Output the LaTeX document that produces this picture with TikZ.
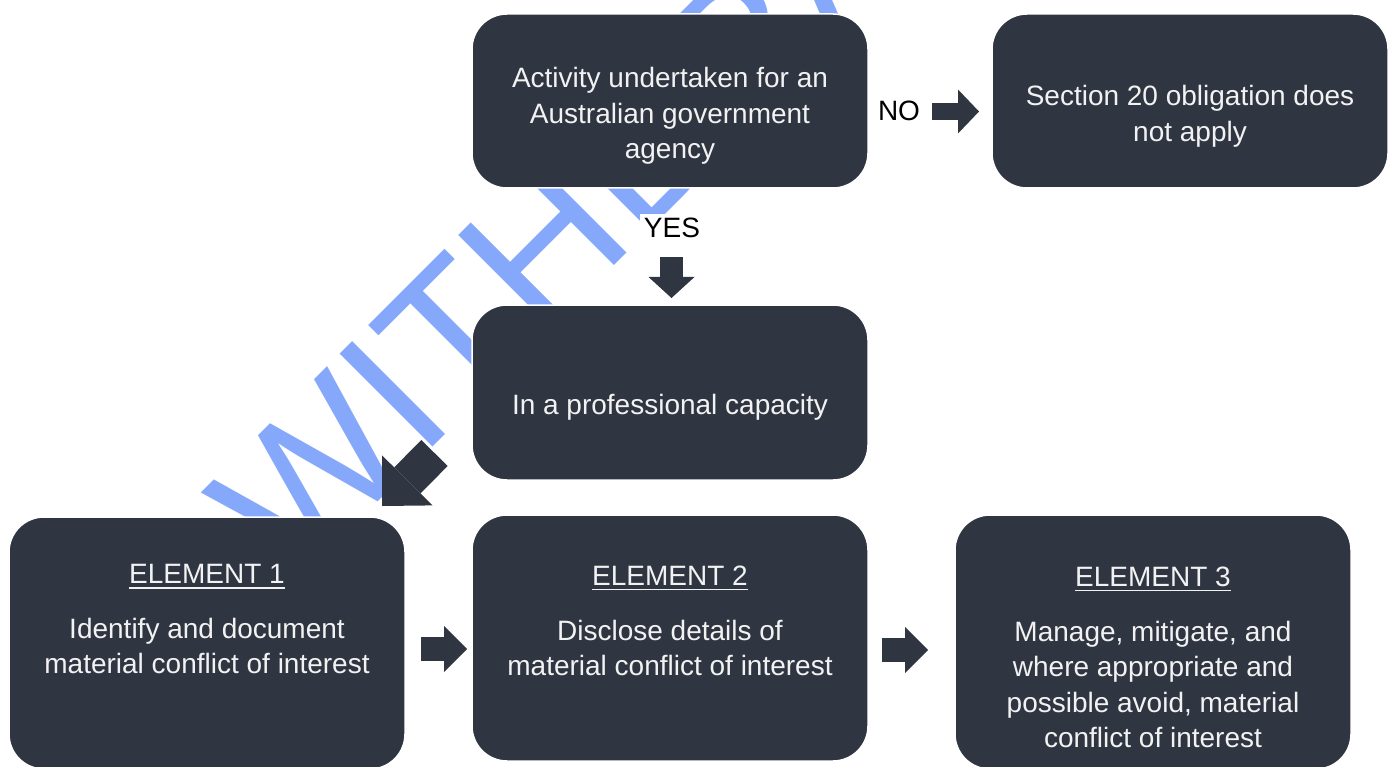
\documentclass[tikz,border=0pt]{standalone}
\usepackage{fontspec}
\setmainfont{Liberation Sans}
\usetikzlibrary{arrows.meta}
\definecolor{boxc}{RGB}{47,54,66}
\definecolor{wmblue}{RGB}{134,168,251}
\definecolor{boxtext}{RGB}{242,242,242}
\tikzset{
  box/.style={rectangle, rounded corners=35pt, fill=boxc, draw=white, line width=1.5pt, inner sep=0pt},
  btext/.style={text=boxtext, font=\fontsize{28}{35.5}\selectfont, inner sep=0pt, anchor=base},
  lbl/.style={text=black, font=\fontsize{28}{34}\selectfont, inner sep=0pt, anchor=base},
  blockarrow/.style n args={3}{draw=boxc, line width=#1, -{Triangle[length=#2, width=#3, line width=0pt]}},
  uline/.style={draw=boxtext, line width=1.6pt}
}
\begin{document}
\begin{tikzpicture}[x=1pt,y=-1pt]
\useasboundingbox (0,0) rectangle (1394,767);
\clip (0,0) rectangle (1394,767);
% watermark
\node[text=wmblue, font=\fontsize{191}{191}\selectfont, inner sep=0pt, anchor=base west, rotate=45] (wmark) at (293,587) {WITHDRAWN};
% boxes
\node[box, minimum width=396pt, minimum height=174pt] (act) at (670,101) {};
\node[box, minimum width=396pt, minimum height=174pt] (sec) at (1190,101) {};
\node[box, minimum width=396pt, minimum height=175pt] (prof) at (670,392.5) {};
\node[box, minimum width=396pt, minimum height=252pt] (el1) at (207,643) {};
\node[box, minimum width=396pt, minimum height=246pt] (el2) at (670,638) {};
\node[box, minimum width=396pt, minimum height=254pt] (el3) at (1153,642) {};
% texts
\node[btext] (actt) at (670,88) {\begin{tabular}[t]{@{}c@{}}Activity undertaken for an\\Australian government\\agency\end{tabular}};
\node[btext] (sect) at (1190,106) {\begin{tabular}[t]{@{}c@{}}Section 20 obligation does\\not apply\end{tabular}};
\node[btext] (proft) at (670,414) {In a professional capacity};
\node[btext] (h1) at (207,583.5) {ELEMENT 1};
\node[btext] (h2) at (670,585) {ELEMENT 2};
\node[btext] (h3) at (1153,586) {ELEMENT 3};
\draw[uline] ([yshift=-4.5pt]h1.base west) -- ([yshift=-4.5pt]h1.base east);
\draw[uline] ([yshift=-4.5pt]h2.base west) -- ([yshift=-4.5pt]h2.base east);
\draw[uline] ([yshift=-4.5pt]h3.base west) -- ([yshift=-4.5pt]h3.base east);
\node[btext] (b1) at (207,638) {\begin{tabular}[t]{@{}c@{}}Identify and document\\material conflict of interest\end{tabular}};
\node[btext] (b2) at (670,640) {\begin{tabular}[t]{@{}c@{}}Disclose details of\\material conflict of interest\end{tabular}};
\node[btext] (b3) at (1153,641) {\begin{tabular}[t]{@{}c@{}}Manage, mitigate, and\\where appropriate and\\possible avoid, material\\conflict of interest\end{tabular}};
% labels
\node[lbl] (no) at (899,121) {NO};
\node[lbl, fill=white, inner sep=4pt] (yes) at (672,238) {YES};
% arrows
\coordinate (noS) at (932,111.5);
\coordinate (noE) at (979,111.5);
\coordinate (yesS) at (671.5,257);
\coordinate (yesE) at (671.5,298);
\coordinate (dS) at (434.5,453);
\coordinate (dE) at (382,506);
\coordinate (r1S) at (421,649);
\coordinate (r1E) at (467,649);
\coordinate (r2S) at (882,650);
\coordinate (r2E) at (928,650);
\draw[blockarrow={17pt}{21pt}{44pt}] (noS) -- (noE);
\draw[blockarrow={23pt}{21pt}{46pt}] (yesS) -- (yesE);
\draw[blockarrow={37pt}{36pt}{71pt}] (dS) -- (dE);
\draw[blockarrow={24pt}{23pt}{46pt}] (r1S) -- (r1E);
\draw[blockarrow={24pt}{23pt}{46pt}] (r2S) -- (r2E);
\end{tikzpicture}
\end{document}
